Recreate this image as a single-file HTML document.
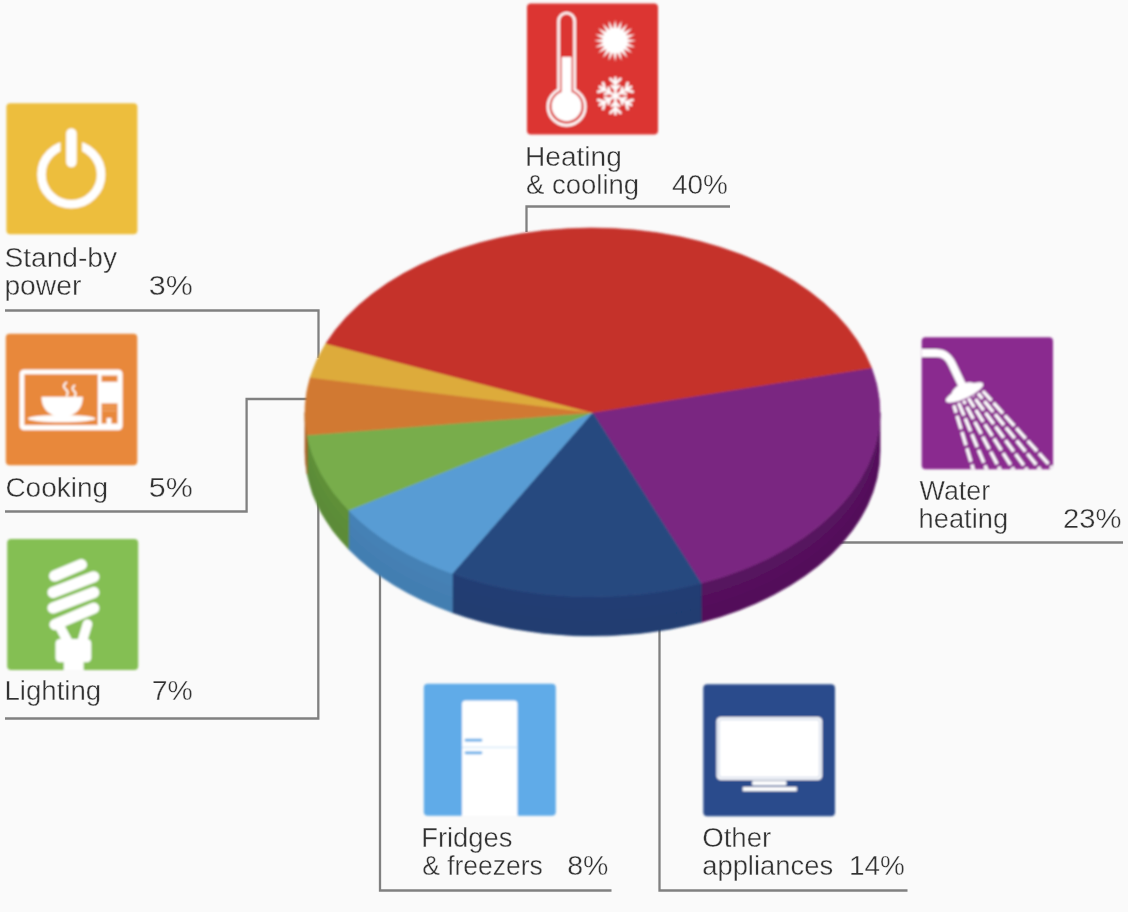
<!DOCTYPE html>
<html><head><meta charset="utf-8"><title>Household energy use</title>
<style>
html,body{margin:0;padding:0;background:#fafafa;}
svg{display:block}
text{font-family:"Liberation Sans",sans-serif;font-size:27px;fill:#333;stroke:#fafafa;stroke-width:0.35px;}
</style></head>
<body>
<svg width="1128" height="912" viewBox="0 0 1128 912">
<defs><filter id="bl" x="-5%" y="-5%" width="110%" height="110%"><feGaussianBlur stdDeviation="0.9"/></filter><filter id="bt" x="-5%" y="-5%" width="110%" height="110%"><feGaussianBlur stdDeviation="0.55"/></filter></defs>
<rect width="1128" height="912" fill="#fafafa"/>
<g filter="url(#bt)">

<g fill="none" stroke="#808080" stroke-width="2.3">
<path d="M526.5,232 V206.5 H730"/>
<path d="M5,310.5 H318.5 V358"/>
<path d="M5,511.5 H246.600 V399 H308"/>
<path d="M5,718.5 H318.3 V470"/>
<path d="M840,542.5 H1123"/>
<path d="M380,560 V890.5 H611.5"/>
<path d="M659.5,625 V890.5 H907.5"/>
</g>

</g>
<g filter="url(#bl)">
<g>
<path d="M880.00,412.50 A287.5,184.5 0 0 1 701.13,583.32 L701.13,622.32 A287.5,184.5 0 0 0 880.00,451.50 Z" fill="#52105a" stroke="#52105a" stroke-width="0.7"/>
<path d="M880.00,412.50 A287.5,184.5 0 0 1 701.13,583.32 L701.13,607.50 A287.5,184.5 0 0 0 880.00,436.68 Z" fill="#54115c"/>
<path d="M880.00,412.50 A287.5,184.5 0 0 1 701.13,583.32 L701.13,596.58 A287.5,184.5 0 0 0 880.00,425.76 Z" fill="#56135e"/>
<path d="M701.13,583.32 A287.5,184.5 0 0 1 452.24,573.55 L452.24,612.55 A287.5,184.5 0 0 0 701.13,622.32 Z" fill="#203c71" stroke="#203c71" stroke-width="0.7"/>
<path d="M701.13,583.32 A287.5,184.5 0 0 1 452.24,573.55 L452.24,597.73 A287.5,184.5 0 0 0 701.13,607.50 Z" fill="#203d72"/>
<path d="M701.13,583.32 A287.5,184.5 0 0 1 452.24,573.55 L452.24,586.81 A287.5,184.5 0 0 0 701.13,596.58 Z" fill="#213d73"/>
<path d="M452.24,573.55 A287.5,184.5 0 0 1 348.69,510.27 L348.69,549.27 A287.5,184.5 0 0 0 452.24,612.55 Z" fill="#437eb1" stroke="#437eb1" stroke-width="0.7"/>
<path d="M452.24,573.55 A287.5,184.5 0 0 1 348.69,510.27 L348.69,534.45 A287.5,184.5 0 0 0 452.24,597.73 Z" fill="#447fb3"/>
<path d="M452.24,573.55 A287.5,184.5 0 0 1 348.69,510.27 L348.69,523.53 A287.5,184.5 0 0 0 452.24,586.81 Z" fill="#4581b5"/>
<path d="M348.69,510.27 A287.5,184.5 0 0 1 307.14,434.98 L307.14,473.98 A287.5,184.5 0 0 0 348.69,549.27 Z" fill="#5b8b37" stroke="#5b8b37" stroke-width="0.7"/>
<path d="M348.69,510.27 A287.5,184.5 0 0 1 307.14,434.98 L307.14,459.16 A287.5,184.5 0 0 0 348.69,534.45 Z" fill="#5c8d38"/>
<path d="M348.69,510.27 A287.5,184.5 0 0 1 307.14,434.98 L307.14,448.24 A287.5,184.5 0 0 0 348.69,523.53 Z" fill="#5e8f39"/>
<path d="M307.14,434.98 A287.5,184.5 0 0 1 305.00,412.50 L305.00,451.50 A287.5,184.5 0 0 0 307.14,473.98 Z" fill="#a85f25" stroke="#a85f25" stroke-width="0.7"/>
<path d="M307.14,434.98 A287.5,184.5 0 0 1 305.00,412.50 L305.00,436.68 A287.5,184.5 0 0 0 307.14,459.16 Z" fill="#aa6026"/>
<path d="M307.14,434.98 A287.5,184.5 0 0 1 305.00,412.50 L305.00,425.76 A287.5,184.5 0 0 0 307.14,448.24 Z" fill="#ad6226"/>
<path d="M592.5,412.5 L871.46,367.87 A287.5,184.5 0 0 1 701.13,583.32 Z" fill="#7a2881" stroke="#7a2881" stroke-width="0.7" stroke-linejoin="round"/>
<path d="M592.5,412.5 L701.13,583.32 A287.5,184.5 0 0 1 452.24,573.55 Z" fill="#27487f" stroke="#27487f" stroke-width="0.7" stroke-linejoin="round"/>
<path d="M592.5,412.5 L452.24,573.55 A287.5,184.5 0 0 1 348.69,510.27 Z" fill="#589cd4" stroke="#589cd4" stroke-width="0.7" stroke-linejoin="round"/>
<path d="M592.5,412.5 L348.69,510.27 A287.5,184.5 0 0 1 307.14,434.98 Z" fill="#78ad4c" stroke="#78ad4c" stroke-width="0.7" stroke-linejoin="round"/>
<path d="M592.5,412.5 L307.14,434.98 A287.5,184.5 0 0 1 310.28,377.30 Z" fill="#d17931" stroke="#d17931" stroke-width="0.7" stroke-linejoin="round"/>
<path d="M592.5,412.5 L310.28,377.30 A287.5,184.5 0 0 1 325.93,343.39 Z" fill="#ddab3b" stroke="#ddab3b" stroke-width="0.7" stroke-linejoin="round"/>
<path d="M592.5,412.5 L325.93,343.39 A287.5,184.5 0 0 1 871.46,367.87 Z" fill="#c5302c" stroke="#c5302c" stroke-width="0.7" stroke-linejoin="round"/>
</g>
<rect x="527" y="3.5" width="131" height="131" rx="4" fill="#dc3632"/>
<g>
<path d="M557.3,89 V21 a9.3,9.3 0 0 1 18.6,0 V89 a20,20 0 1 1 -18.6,0 Z" fill="#fff"/>
<path d="M559.9,90.6 V21 a6.7,6.7 0 0 1 13.4,0 V90.6 a17.3,17.3 0 1 1 -13.4,0 Z" fill="#dc3632"/>
<path d="M561.6,92 V57 H571.6 V92 a15,15 0 1 1 -10,0 Z" fill="#fff"/>
</g>
<g fill="#fff"><circle cx="615.1" cy="40.7" r="12.6"/><polygon points="636.10,40.70 626.46,42.50 635.07,47.19 625.35,45.92 632.09,53.04 623.23,48.83 627.44,57.69 620.32,50.95 621.59,60.67 616.90,52.06 615.10,61.70 613.30,52.06 608.61,60.67 609.88,50.95 602.76,57.69 606.97,48.83 598.11,53.04 604.85,45.92 595.13,47.19 603.74,42.50 594.10,40.70 603.74,38.90 595.13,34.21 604.85,35.48 598.11,28.36 606.97,32.57 602.76,23.71 609.88,30.45 608.61,20.73 613.30,29.34 615.10,19.70 616.90,29.34 621.59,20.73 620.32,30.45 627.44,23.71 623.23,32.57 632.09,28.36 625.35,35.48 635.07,34.21 626.46,38.90"/></g>
<g stroke="#fff" stroke-width="2.6" stroke-linecap="round" fill="none" transform="translate(615.4,95.9)"><g transform="rotate(0)"><path d="M0,0 V-18 M0,-12 l-5,-5 M0,-12 l5,-5 M0,-6.5 l-3.5,-3.5 M0,-6.5 l3.5,-3.5"/></g><g transform="rotate(60)"><path d="M0,0 V-18 M0,-12 l-5,-5 M0,-12 l5,-5 M0,-6.5 l-3.5,-3.5 M0,-6.5 l3.5,-3.5"/></g><g transform="rotate(120)"><path d="M0,0 V-18 M0,-12 l-5,-5 M0,-12 l5,-5 M0,-6.5 l-3.5,-3.5 M0,-6.5 l3.5,-3.5"/></g><g transform="rotate(180)"><path d="M0,0 V-18 M0,-12 l-5,-5 M0,-12 l5,-5 M0,-6.5 l-3.5,-3.5 M0,-6.5 l3.5,-3.5"/></g><g transform="rotate(240)"><path d="M0,0 V-18 M0,-12 l-5,-5 M0,-12 l5,-5 M0,-6.5 l-3.5,-3.5 M0,-6.5 l3.5,-3.5"/></g><g transform="rotate(300)"><path d="M0,0 V-18 M0,-12 l-5,-5 M0,-12 l5,-5 M0,-6.5 l-3.5,-3.5 M0,-6.5 l3.5,-3.5"/></g></g>
<rect x="6.4" y="103.3" width="131" height="131" rx="4" fill="#edbe3d"/>
<g>
<circle cx="71.3" cy="174.5" r="29.8" fill="none" stroke="#fff" stroke-width="8.6"/>
<rect x="60.5" y="125" width="21.6" height="45" fill="#edbe3d"/>
<path d="M71.4,133.5 V162" stroke="#fff" stroke-width="10.5" stroke-linecap="round"/>
</g>
<rect x="5.8" y="333.7" width="131.5" height="131.5" rx="4" fill="#e8883b"/>
<g>
<rect x="19.6" y="369.5" width="103" height="60.8" rx="4.5" fill="#fff"/>
<rect x="24.4" y="374.3" width="73.4" height="50.8" fill="#e8883b"/>
<rect x="101.5" y="375.5" width="16" height="6.3" fill="#e8883b"/>
<rect x="101.5" y="403.4" width="16" height="20.2" fill="#e8883b"/>
<rect x="102.5" y="406.4" width="13.4" height="1.2" fill="#f0a86c"/>
<rect x="102.5" y="410" width="13.4" height="1.2" fill="#f0a86c"/>
<rect x="106.6" y="418" width="4.8" height="6" fill="#fff"/>
<ellipse cx="61.6" cy="418.6" rx="34" ry="3.6" fill="#fff"/>
<path d="M41.4,396.7 H82.9 C82.9,408 76,416.6 62.2,416.6 C48.5,416.6 41.4,408 41.4,396.7 Z" fill="#fff"/>
<path d="M66.3,382.5 c-3.2,2.5 -3.2,4.8 -0.6,6.8 c2.4,2 2.6,4 1,6.5" fill="none" stroke="#fff" stroke-width="1.9" stroke-linecap="round"/>
<path d="M74.5,385.5 c-2.6,2 -2.6,3.8 -0.5,5.4 c2,1.6 2.2,3.2 0.8,5.2" fill="none" stroke="#fff" stroke-width="1.9" stroke-linecap="round"/>
</g>
<rect x="7.2" y="538.9" width="131" height="131" rx="4" fill="#84bf53"/>
<g>
<g stroke="#fff" stroke-width="11.2" stroke-linecap="round" fill="none">
<path d="M54.6,576 L81.4,564.6"/>
<path d="M53,592.5 L93.8,576.8"/>
<path d="M53,608 L93.8,592.4"/>
<path d="M55,624.6 L93.8,608.2"/>
</g>
<path d="M60,627 L68,642 M87.5,624 L82,642" stroke="#fff" stroke-width="9.6" stroke-linecap="round"/>
<path d="M71.5,626 L79,623.5 L74.8,638 Z" fill="#84bf53"/>
<rect x="55.5" y="639" width="35.8" height="23.3" rx="4.5" fill="#fff"/>
<rect x="63.8" y="655" width="19.8" height="15" fill="#fff"/>
</g>
<rect x="921.7" y="337.3" width="131.3" height="132" rx="4" fill="#8a2c8f"/>
<g>
<clipPath id="cw"><rect x="921.7" y="337.3" width="131.3" height="132" rx="4"/></clipPath>
<g clip-path="url(#cw)">
<path d="M918,353 H936 C945,353 949,358 952,364 L962,385" fill="none" stroke="#fff" stroke-width="8"/>
<g transform="translate(964.5,392.5) rotate(-25)">
<ellipse cx="0" cy="0" rx="20.5" ry="5.8" fill="#fff"/>
<path d="M-13,-2 a13,7 0 0 1 26,0 Z" fill="#fff"/>
</g>
<g stroke="#fff" stroke-width="3.3" stroke-dasharray="14 3" fill="none">
<path d="M953.8,405.2 L973.5,470" stroke-dashoffset="6"/>
<path d="M958.6,402.8 L986.9,470" stroke-dashoffset="0"/>
<path d="M963.5,400.5 L1000.3,470" stroke-dashoffset="10"/>
<path d="M968.3,398.1 L1013.8,470" stroke-dashoffset="3"/>
<path d="M973.1,395.7 L1027.2,470" stroke-dashoffset="13"/>
<path d="M978.0,393.4 L1040.6,470" stroke-dashoffset="7"/>
<path d="M982.8,391.0 L1054.0,470" stroke-dashoffset="1"/>
</g>
</g>
</g>
<rect x="423.8" y="683.8" width="132" height="132" rx="4" fill="#60abe8"/>
<g>
<path d="M462,816 V704 a3.5,3.5 0 0 1 3.500,-3.500 H514 a3.500,3.500 0 0 1 3.500,3.500 V816 Z" fill="#fff"/>
<rect x="462" y="746.800" width="55.500" height="1.200" fill="#cfe6f8"/>
<path d="M466,740.200 H481 M466,752.800 H481" stroke="#60abe8" stroke-width="2.800" stroke-linecap="round"/>
</g>
<rect x="703.3" y="684.2" width="131.7" height="132" rx="4" fill="#2a4b8c"/>
<g>
<rect x="716.500" y="717" width="105.700" height="63" rx="4.500" fill="#fff"/>
<rect x="718.800" y="719.300" width="101.100" height="58.400" rx="3" fill="none" stroke="#b9c6de" stroke-width="1"/>
<rect x="752.200" y="780.800" width="34.200" height="4.700" fill="#fff"/>
<rect x="742.700" y="787" width="54.100" height="4.200" fill="#fff"/>
</g>

</g>
<g filter="url(#bt)">
<text x="525.0" y="166.4" textLength="96.8" lengthAdjust="spacingAndGlyphs">Heating</text>
<text x="526.0" y="194.3" textLength="113.1" lengthAdjust="spacingAndGlyphs">&amp; cooling</text>
<text x="672.0" y="194.3" textLength="55.9" lengthAdjust="spacingAndGlyphs">40%</text>
<text x="4.4" y="266.8" textLength="112.7" lengthAdjust="spacingAndGlyphs">Stand-by</text>
<text x="4.4" y="294.7" textLength="76.9" lengthAdjust="spacingAndGlyphs">power</text>
<text x="148.8" y="294.7" textLength="44.0" lengthAdjust="spacingAndGlyphs">3%</text>
<text x="5.4" y="497" textLength="102.7" lengthAdjust="spacingAndGlyphs">Cooking</text>
<text x="148.8" y="497" textLength="44.0" lengthAdjust="spacingAndGlyphs">5%</text>
<text x="4.4" y="700.3" textLength="96.8" lengthAdjust="spacingAndGlyphs">Lighting</text>
<text x="151.8" y="700.3" textLength="41.0" lengthAdjust="spacingAndGlyphs">7%</text>
<text x="919.6" y="499.6" textLength="70.6" lengthAdjust="spacingAndGlyphs">Water</text>
<text x="918.6" y="527.5" textLength="89.5" lengthAdjust="spacingAndGlyphs">heating</text>
<text x="1063.0" y="527.5" textLength="58.5" lengthAdjust="spacingAndGlyphs">23%</text>
<text x="421.2" y="847.2" textLength="91.3" lengthAdjust="spacingAndGlyphs">Fridges</text>
<text x="422.2" y="875.1" textLength="120.6" lengthAdjust="spacingAndGlyphs">&amp; freezers</text>
<text x="567.2" y="875.1" textLength="41.2" lengthAdjust="spacingAndGlyphs">8%</text>
<text x="702.2" y="847.2" textLength="69.1" lengthAdjust="spacingAndGlyphs">Other</text>
<text x="702.2" y="875.1" textLength="130.9" lengthAdjust="spacingAndGlyphs">appliances</text>
<text x="849.0" y="875.1" textLength="55.8" lengthAdjust="spacingAndGlyphs">14%</text>

</g>
</svg>
</body></html>
